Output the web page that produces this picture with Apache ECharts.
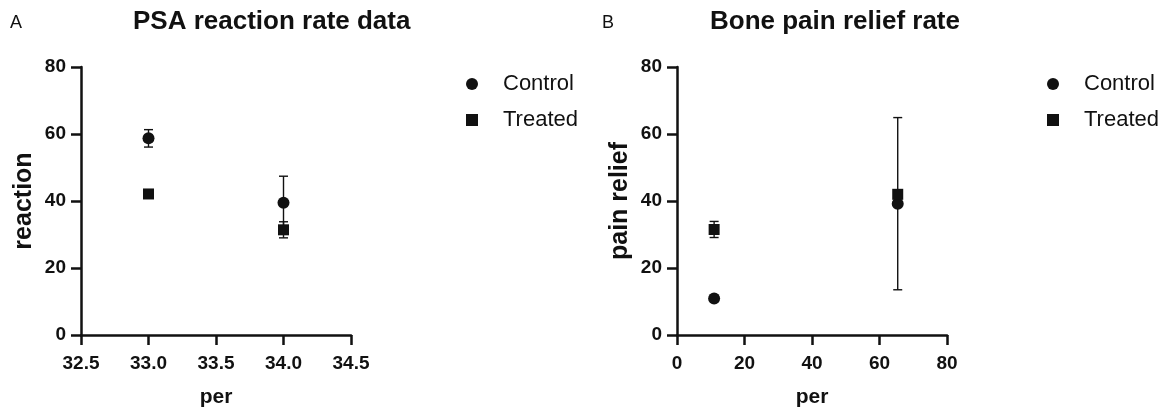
<!DOCTYPE html>
<html>
  <head>
    <meta charset="UTF-8" />
    <title>PSA reaction / Bone pain relief</title>
    <script src="https://cdn.jsdelivr.net/npm/echarts@6/dist/echarts.min.js"></script>
    <style>
      body { margin: 0; background: #fff; }
    </style>
  </head>
  <body>
    <div id="chart" style="width: 1166px; height: 411px"></div>
  </body>
  <script>
    // panel A: PSA reaction rate
    const psaPer = [33.0, 34.0];
    const psaControl = [58.7, 39.5];
    const psaControlSd = [2.6, 7.9];
    const psaTreated = [42.1, 31.4];
    const psaTreatedSd = [0.8, 2.4];

    // panel B: bone pain relief rate
    const bonePer = [11.0, 65.4];
    const boneControl = [10.9, 39.2];
    const boneControlSd = [0.5, 25.7];
    const boneTreated = [31.5, 42.0];
    const boneTreatedSd = [2.4, 0.5];

    const psaTicks = [32.5, 33.0, 33.5, 34.0, 34.5];
    const boneTicks = [0, 20, 40, 60, 80];

    const font = 'Liberation Sans, Arial, Helvetica, sans-serif';
    const ink = '#111';

    let myChart = echarts.init(document.getElementById('chart'));

    function pts(xs, ys) {
      return xs.map((x, i) => [x, ys[i]]);
    }
    function errPts(xs, ys, sd) {
      return xs.map((x, i) => [x, ys[i], sd[i]]);
    }

    function errorBars(name, idx, data) {
      return {
        name: name,
        type: 'custom',
        xAxisIndex: idx,
        yAxisIndex: idx,
        z: 1,
        silent: true,
        encode: { x: 0, y: 1 },
        data: data,
        renderItem: function (params, api) {
          let x = api.value(0), y = api.value(1), e = api.value(2);
          let top = api.coord([x, y + e]);
          let bot = api.coord([x, y - e]);
          let w = 4.5;
          let st = { stroke: ink, lineWidth: 1.4 };
          return {
            type: 'group',
            children: [
              { type: 'line', shape: { x1: top[0], y1: top[1], x2: bot[0], y2: bot[1] }, style: st },
              { type: 'line', shape: { x1: top[0] - w, y1: top[1], x2: top[0] + w, y2: top[1] }, style: st },
              { type: 'line', shape: { x1: bot[0] - w, y1: bot[1], x2: bot[0] + w, y2: bot[1] }, style: st }
            ]
          };
        }
      };
    }

    function dots(name, idx, symbol, size, data) {
      return {
        name: name,
        type: 'scatter',
        xAxisIndex: idx,
        yAxisIndex: idx,
        z: 3,
        symbol: symbol,
        symbolSize: size,
        itemStyle: { color: ink, opacity: 1 },
        data: data
      };
    }

    const axisCommon = {
      axisLine: { lineStyle: { color: ink, width: 2.5 } },
      axisTick: { show: true, length: 10, lineStyle: { color: ink, width: 2.5 } },
      splitLine: { show: false }
    };

    function xAxis(idx, min, max, interval, digits) {
      return Object.assign({}, axisCommon, {
        type: 'value',
        gridIndex: idx,
        min: min,
        max: max,
        interval: interval,
        name: 'per',
        nameLocation: 'middle',
        nameGap: 52,
        nameTextStyle: { color: ink, fontFamily: font, fontWeight: 'bold', fontSize: 21 },
        axisLabel: {
          color: ink, fontFamily: font, fontWeight: 'bold', fontSize: 19, margin: 19,
          formatter: v => v.toFixed(digits)
        }
      });
    }

    function yAxis(idx, name) {
      return Object.assign({}, axisCommon, {
        type: 'value',
        gridIndex: idx,
        min: 0,
        max: 80,
        interval: 20,
        name: name,
        nameLocation: 'middle',
        nameGap: 44,
        nameTextStyle: { color: ink, fontFamily: font, fontWeight: 'bold', fontSize: 25 },
        axisLabel: { color: ink, fontFamily: font, fontWeight: 'bold', fontSize: 19, margin: 15 }
      });
    }

    function legend(left) {
      return {
        orient: 'vertical',
        left: left,
        top: 68,
        itemWidth: 52,
        itemHeight: 12,
        itemGap: 14,
        selectedMode: false,
        symbolKeepAspect: true,
        textStyle: { color: ink, fontFamily: font, fontSize: 22 },
        data: [
          { name: 'Control', icon: 'circle' },
          { name: 'Treated', icon: 'path://M0,0h10v10h-10z', itemStyle: { color: ink } }
        ]
      };
    }

    myChart.setOption({
      animation: false,
      title: [
        { text: 'A', left: 5, top: 9, textStyle: { color: ink, fontFamily: font, fontWeight: 'normal', fontSize: 18 } },
        { text: 'PSA reaction rate data', left: 128, top: 4, textStyle: { color: ink, fontFamily: font, fontWeight: 'bold', fontSize: 26 } },
        { text: 'B', left: 597, top: 9, textStyle: { color: ink, fontFamily: font, fontWeight: 'normal', fontSize: 18 } },
        { text: 'Bone pain relief rate', left: 705, top: 4, textStyle: { color: ink, fontFamily: font, fontWeight: 'bold', fontSize: 26 } }
      ],
      legend: [legend(461), legend(1042)],
      grid: [
        { left: 81, top: 67, width: 270, height: 268, outerBoundsMode: 'none' },
        { left: 677, top: 67, width: 270, height: 268, outerBoundsMode: 'none' }
      ],
      xAxis: [
        xAxis(0, psaTicks[0], psaTicks[psaTicks.length - 1], 0.5, 1),
        xAxis(1, boneTicks[0], boneTicks[boneTicks.length - 1], 20, 0)
      ],
      yAxis: [yAxis(0, 'reaction'), yAxis(1, 'pain relief')],
      series: [
        errorBars('Control SD A', 0, errPts(psaPer, psaControl, psaControlSd)),
        errorBars('Treated SD A', 0, errPts(psaPer, psaTreated, psaTreatedSd)),
        dots('Control', 0, 'circle', 12, pts(psaPer, psaControl)),
        dots('Treated', 0, 'rect', 11, pts(psaPer, psaTreated)),
        errorBars('Control SD B', 1, errPts(bonePer, boneControl, boneControlSd)),
        errorBars('Treated SD B', 1, errPts(bonePer, boneTreated, boneTreatedSd)),
        dots('Control', 1, 'circle', 12, pts(bonePer, boneControl)),
        dots('Treated', 1, 'rect', 11, pts(bonePer, boneTreated))
      ]
    });
  </script>
</html>
